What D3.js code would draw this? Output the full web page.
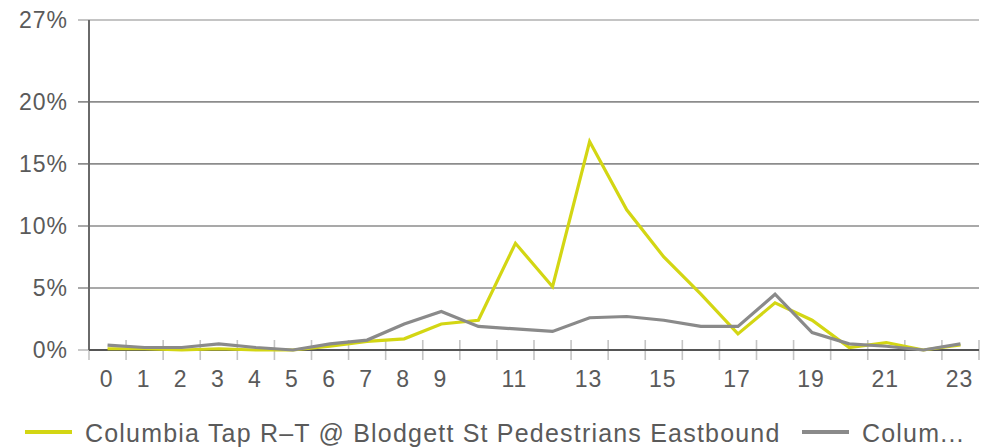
<html>
<head>
    <script src="https://cdn.jsdelivr.net/npm/d3@7"></script>
    <style>
        body{ margin:0; background:#fff; }
        svg text{ font-family:"Liberation Sans", Arial, sans-serif; fill:#5a5a5a; letter-spacing:1px; }
        svg text.leg{ letter-spacing:1.2px; }
    </style>
</head>
<body>
<svg id="chart" width="989" height="448"></svg>
<script>
    // hourly share of daily volume (%)
    var hours = d3.range(0, 24);
    var eastbound = [0.1, 0.1, 0.0, 0.1, 0.0, 0.0, 0.3, 0.7, 0.9, 2.1, 2.4, 8.6, 5.1, 16.8, 11.3, 7.5, 4.5, 1.3, 3.8, 2.4, 0.2, 0.6, 0.0, 0.4];
    var other = [0.4, 0.2, 0.2, 0.5, 0.2, 0.0, 0.5, 0.8, 2.1, 3.1, 1.9, 1.7, 1.5, 2.6, 2.7, 2.4, 1.9, 1.9, 4.5, 1.4, 0.5, 0.3, 0.0, 0.5];
    var xTickLabels = [0, 1, 2, 3, 4, 5, 6, 7, 8, 9, 11, 13, 15, 17, 19, 21, 23];
    var yTicks = [0, 5, 10, 15, 20, 26.6];
    var yTickLabels = ["0%", "5%", "10%", "15%", "20%", "27%"];
    var legendNames = ["Columbia Tap R\u2013T @ Blodgett St Pedestrians Eastbound", "Colum..."];
    var colors = ["#d3d613", "#8a8a8a"];

    var svg = d3.select("#chart");
    var mLeft = 89, mRight = 979, mTop = 20, mBottom = 350;

    var x = d3.scaleBand().domain(hours).range([mLeft, mRight]).padding(0);
    var y = d3.scaleLinear().domain([0, 26.6]).range([mBottom, mTop]);

    // grid lines + small ticks left of the axis
    svg.selectAll(".grid").data(yTicks.slice(1)).enter().append("line")
        .attr("x1", mLeft - 11).attr("x2", mRight)
        .attr("y1", function(d){ return y(d); }).attr("y2", function(d){ return y(d); })
        .attr("stroke", function(d, i){ return i == yTicks.length - 2 ? "#b0b0b0" : "#8c8c8c"; })
        .attr("stroke-width", 1.6);
    svg.append("line").attr("x1", mLeft - 11).attr("x2", mLeft)
        .attr("y1", y(0)).attr("y2", y(0)).attr("stroke", "#bbb").attr("stroke-width", 1.6);

    svg.selectAll(".ylab").data(yTicks).enter().append("text")
        .attr("x", 68).attr("y", function(d){ return y(d) + 8; })
        .attr("text-anchor", "end").style("font-size", "23px")
        .text(function(d, i){ return yTickLabels[i]; });

    // x tick marks at band edges
    var edges = hours.map(function(h){ return x(h); }).concat([mRight]);
    svg.selectAll(".xt").data(edges).enter().append("line")
        .attr("x1", function(d){ return d; }).attr("x2", function(d){ return d; })
        .attr("y1", mBottom - 10).attr("y2", mBottom + 10)
        .attr("stroke", "#c4c4c4").attr("stroke-width", 1.6);

    svg.selectAll(".xlab").data(xTickLabels).enter().append("text")
        .attr("x", function(d){ return x(d) + x.bandwidth() / 2 - 1; })
        .attr("y", 387).attr("text-anchor", "middle").style("font-size", "23px")
        .text(function(d){ return d; });

    // axes
    svg.append("line").attr("x1", mLeft).attr("x2", mLeft).attr("y1", mTop).attr("y2", mBottom)
        .attr("stroke", "#6a6a6a").attr("stroke-width", 2);
    svg.append("line").attr("x1", mLeft).attr("x2", mRight).attr("y1", mBottom).attr("y2", mBottom)
        .attr("stroke", "#555").attr("stroke-width", 2);

    var line = d3.line()
        .x(function(d, i){ return x(hours[i]) + x.bandwidth() / 2; })
        .y(function(d){ return y(d); });

    [eastbound, other].forEach(function(s, i){
        svg.append("path").datum(s).attr("d", line)
            .attr("fill", "none").attr("stroke", colors[i])
            .attr("stroke-width", 3.2).attr("stroke-linejoin", "miter");
    });

    // legend
    var legX = [25, 802];
    legendNames.forEach(function(name, i){
        svg.append("line").attr("x1", legX[i]).attr("x2", legX[i] + 47)
            .attr("y1", 432).attr("y2", 432)
            .attr("stroke", colors[i]).attr("stroke-width", 4);
        svg.append("text").attr("class", "leg").attr("x", legX[i] + 60).attr("y", 442)
            .style("font-size", "25px").text(name);
    });
</script>
</body>
</html>
